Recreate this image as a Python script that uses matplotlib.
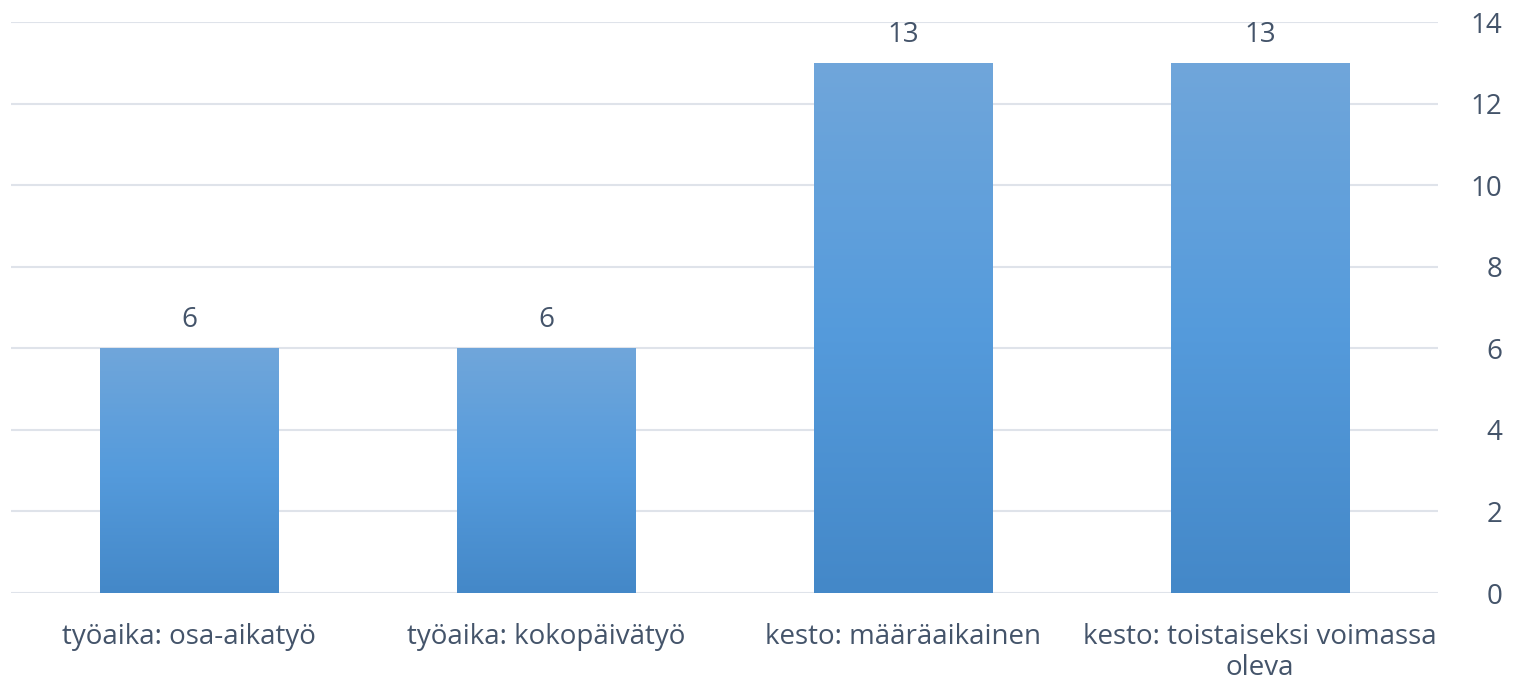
import numpy as np
import matplotlib
matplotlib.use("Agg")
import matplotlib.pyplot as plt
from matplotlib.colors import LinearSegmentedColormap

categories = ["työaika: osa-aikatyö", "työaika: kokopäivätyö",
              "kesto: määräaikainen", "kesto: toistaiseksi voimassa\noleva"]
values = [6, 6, 13, 13]
yticks = [0, 2, 4, 6, 8, 10, 12, 14]

txt = "#44546a"
plt.rcParams['font.family'] = ['Open Sans', 'DejaVu Sans']

fig = plt.figure(figsize=(15.13, 6.89), dpi=100)
ax = fig.add_axes([0.00694, 0.1393, 0.9438, 0.8287])

grad = LinearSegmentedColormap.from_list("g", ["#4488c8", "#559bdc", "#70a6da"])
x = np.arange(len(values))
bars = ax.bar(x, values, width=0.5, color="none", zorder=3)
g = np.linspace(0, 1, 256).reshape(-1, 1)
for b, v in zip(bars, values):
    x0 = b.get_x()
    im = ax.imshow(g, cmap=grad, origin="lower", aspect="auto",
                   extent=[x0, x0 + b.get_width(), 0, v], zorder=3)
    im.set_clip_path(b)
    ax.text(b.get_x() + b.get_width() / 2, v + 0.35, str(v), ha="center", va="bottom",
            fontsize=20, color=txt)

ax.set_xlim(-0.5, len(values) - 0.5)
ax.set_ylim(0, 14)
ax.set_yticks(yticks)
ax.yaxis.tick_right()
ax.set_xticks(x)
ax.set_xticklabels(categories, fontsize=20, color=txt, linespacing=1.15)
ax.tick_params(axis="both", length=0, labelsize=20, labelcolor=txt)
ax.tick_params(axis="y", pad=46)
for lab in ax.get_yticklabels():
    lab.set_ha("right")
ax.tick_params(axis="x", pad=21.5)
ax.grid(axis="y", color="#dfe3ea", linewidth=1.5, zorder=0)
for s in ax.spines.values():
    s.set_visible(False)

fig.savefig("out.png", dpi=100)
